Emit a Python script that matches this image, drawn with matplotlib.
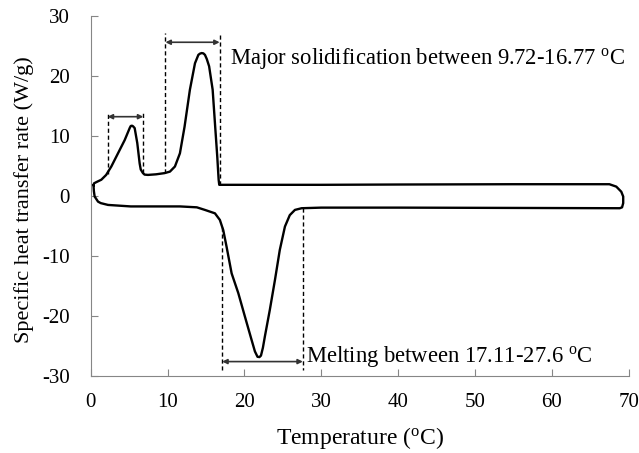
import matplotlib

matplotlib.use("Agg")
import matplotlib.pyplot as plt

plt.rcParams["font.family"] = ["Liberation Serif", "DejaVu Serif"]
plt.rcParams["mathtext.fontset"] = "custom"
plt.rcParams["mathtext.rm"] = "Liberation Serif"
plt.rcParams["mathtext.it"] = "Liberation Serif:italic"
plt.rcParams["axes.unicode_minus"] = False

# DSC loop: heating branch (lower), turn-around at the hot end, cooling branch (upper)
heat_temp = [0.35, 0.4, 0.5, 0.94, 1.3, 2.24, 5.2, 8.0, 11.6, 13.8, 14.85, 16.16, 16.8, 17.24,
             17.67, 18.33, 19.2, 20.06, 20.93, 21.36, 21.7, 21.95, 22.15, 22.4, 22.66, 23.3,
             23.97, 24.6, 25.27, 25.9, 26.57, 27.44, 30.0, 40.0, 55.0, 68.85]
heat_flow = [1.8, 0.8, -0.1, -0.95, -1.2, -1.5, -1.75, -1.75, -1.75, -1.9, -2.33, -2.9, -4.0, -5.7,
             -8.45, -12.9, -16.2, -20.1, -24.0, -25.9, -26.8, -26.85, -26.6, -25.3, -23.4, -19.0,
             -14.0, -9.0, -5.1, -3.2, -2.33, -2.05, -1.95, -1.95, -2.0, -2.05]

turn_temp = [69.15, 69.3, 69.3, 69.05, 68.4, 67.5]
turn_flow = [-1.9, -1.2, -0.1, 0.7, 1.55, 1.95]

cool_temp = [55.0, 40.0, 30.0, 17.0, 16.72, 16.64, 16.46, 16.16, 15.86, 15.4, 15.1, 14.86,
             14.65, 14.43, 14.2, 14.0, 13.56, 12.9, 12.2, 11.6, 10.95, 10.3, 9.6, 8.5, 7.44,
             7.0, 6.79, 6.5, 6.36, 6.05, 5.71, 5.5, 5.36, 5.2, 5.06, 4.41, 3.54, 2.67, 2.0,
             1.37, 0.8, 0.42, 0.35]
cool_flow = [1.95, 1.9, 1.85, 1.85, 1.85, 2.7, 6.55, 12.1, 17.7, 21.6, 22.8, 23.5,
             23.75, 23.8, 23.7, 23.5, 22.1, 17.7, 11.5, 7.1, 4.9, 4.05, 3.8, 3.6, 3.5,
             3.55, 3.8, 4.4, 5.4, 8.8, 11.3, 11.6, 11.7, 11.65, 11.3, 9.3, 7.1, 4.9, 3.5,
             2.7, 2.35, 2.1, 1.8]

# transition ranges: (start, end, bottom of left dash, bottom of right dash, dash top, arrow level)
minor_range = (2.2, 6.83, 3.6, 3.8, 14.0, 13.2)
major_range = (9.72, 16.77, 3.85, 1.85, 27.1, 25.6)
melt_range = (17.11, 27.6, -5.2, -2.0, -29.0, -27.6)

major_label = "Major solidification between 9.72-16.77 $^{\\mathrm{o}}$C"
melt_label = "Melting between 17.11-27.6 $^{\\mathrm{o}}$C"

x_ticks = [0, 10, 20, 30, 40, 50, 60, 70]
y_ticks = [-30, -20, -10, 0, 10, 20, 30]

fig = plt.figure(figsize=(6.39, 4.53), dpi=100)
ax = fig.add_axes([0.1421, 0.17, 0.8416, 0.795])

temp = heat_temp + turn_temp + cool_temp
flow = heat_flow + turn_flow + cool_flow
ax.plot(temp, flow, color="black", linewidth=1.7, solid_joinstyle="round")

for x0, x1, b0, b1, top, level in (minor_range, major_range, melt_range):
    ax.plot([x0, x0], [b0, top], color="black", linestyle=(0, (3, 2)), linewidth=1.0)
    ax.plot([x1, x1], [b1, top], color="black", linestyle=(0, (3, 2)), linewidth=1.0)
    ax.annotate("", xy=(x1, level), xytext=(x0, level),
                arrowprops=dict(arrowstyle="<|-|>", color="#333333", linewidth=1.2,
                                mutation_scale=7, shrinkA=0, shrinkB=0))

ax.text(18.1, 22.9, major_label, fontsize=16.3, va="center", ha="left")
ax.text(28.0, -26.8, melt_label, fontsize=16.3, va="center", ha="left")

ax.set_xlim(0, 70)
ax.set_ylim(-30, 30)
ax.set_xticks(x_ticks)
ax.set_yticks(y_ticks)
ax.tick_params(direction="in", length=5, color="#868686", labelsize=15)
ax.tick_params(axis="x", pad=12)
ax.tick_params(axis="y", pad=15)
for side in ("top", "right"):
    ax.spines[side].set_visible(False)
for side in ("left", "bottom"):
    ax.spines[side].set_color("#868686")
ax.set_xlabel("Temperature ($^{\\mathrm{o}}$C)", fontsize=17)
ax.set_ylabel("Specific heat transfer rate (W/g)", fontsize=16)
ax.xaxis.set_label_coords(0.5, -0.135)
ax.yaxis.set_label_coords(-0.106, 0.49)

fig.savefig("out.png", dpi=100)
